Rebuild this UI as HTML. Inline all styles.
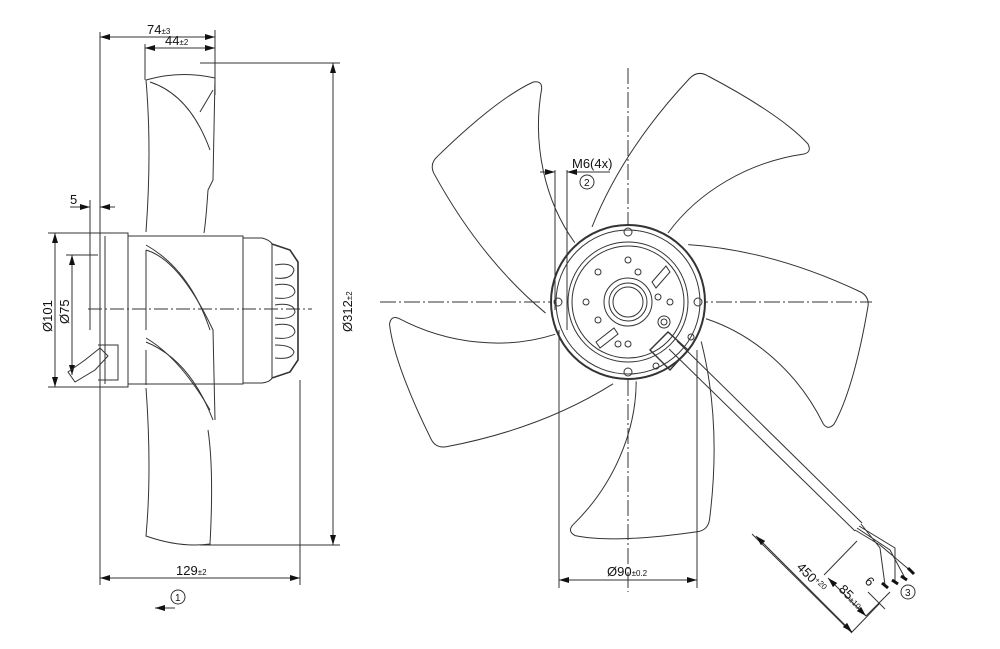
<!DOCTYPE html>
<html><head><meta charset="utf-8"><style>
html,body{margin:0;padding:0;background:#fff;}
svg{display:block;}
text{font-family:"Liberation Sans",sans-serif;fill:#111;}
</style></head><body>
<svg width="1000" height="649" viewBox="0 0 1000 649" xmlns="http://www.w3.org/2000/svg">
<defs>
<marker id="a" viewBox="0 0 10 6" refX="10" refY="3" markerWidth="10" markerHeight="6" orient="auto-start-reverse" markerUnits="userSpaceOnUse"><path d="M0,0 L10,3 L0,6 Z" fill="#111"/></marker>
</defs>
<g fill="none" stroke="#333" stroke-width="1">
<line x1="100" y1="32" x2="100" y2="585"/>
<line x1="215" y1="30" x2="215" y2="95"/>
<line x1="145" y1="44" x2="145" y2="80"/>
<line x1="200" y1="63" x2="340" y2="63"/>
<line x1="200" y1="545" x2="340" y2="545"/>
<line x1="300" y1="380" x2="300" y2="585"/>
<line x1="90" y1="200" x2="90" y2="330"/>
<line x1="100" y1="37" x2="215" y2="37" marker-start="url(#a)" marker-end="url(#a)"/>
<line x1="145" y1="48" x2="215" y2="48" marker-start="url(#a)" marker-end="url(#a)"/>
<line x1="333" y1="63" x2="333" y2="545" marker-start="url(#a)" marker-end="url(#a)"/>
<line x1="100" y1="578" x2="300" y2="578" marker-start="url(#a)" marker-end="url(#a)"/>
<line x1="55" y1="233" x2="55" y2="387" marker-start="url(#a)" marker-end="url(#a)"/>
<line x1="72" y1="255" x2="72" y2="375" marker-start="url(#a)" marker-end="url(#a)"/>
<line x1="48" y1="233" x2="100" y2="233"/>
<line x1="48" y1="387" x2="100" y2="387"/>
<line x1="66" y1="255" x2="98" y2="255"/>
<line x1="70" y1="207" x2="90" y2="207" marker-end="url(#a)"/>
<line x1="100" y1="207" x2="115" y2="207"/>
<line x1="100" y1="207" x2="108" y2="207" marker-start="url(#a)"/>
<line x1="88" y1="309" x2="312" y2="309" stroke-dasharray="14,3,2,3"/>
<path d="M146,80 Q180,70 215,78 L213,180 L208,190 Q206,220 204,233"/>
<path d="M146,80 Q152,150 146,232"/>
<path d="M150,82 Q190,95 210,150"/>
<path d="M200,112 L213,90"/>
<path d="M146,388 Q152,470 146,536 Q180,548 210,544 Q214,470 208,430"/>
<path d="M146,250 Q180,260 213,330 L215,420"/>
<path d="M146,245 Q190,270 210,330"/>
<path d="M146,342 Q190,360 213,420"/>
<path d="M146,338 Q180,358 210,410"/>
<path d="M146,250 L146,330 M146,350 L146,385"/>
<rect x="100" y="233" width="28" height="154"/>
<line x1="105" y1="236" x2="105" y2="384"/>
<rect x="128" y="236" width="115" height="148"/>
<path d="M243,238 L262,238 Q270,240 272,244 L272,378 Q270,382 262,383 L243,383"/>
<path d="M272,244 L290,250 L298,262 L298,360 L290,372 L272,378" stroke-width="1.6"/>
<path d="M275,265 Q292,262 294,270 Q292,280 275,278 M275,285 Q294,282 295,292 Q292,300 275,298 M275,305 Q294,302 295,312 Q292,320 275,318 M275,325 Q294,322 295,332 Q292,340 275,338 M275,345 Q292,345 294,352 Q292,360 275,358" />
<path d="M98,345 L118,345 L118,380 L98,380"/>
<path d="M68,372 L85,360 L100,348 L108,356 L95,370 L75,382 Z"/>
<line x1="155" y1="608" x2="175" y2="608" marker-start="url(#a)"/>
<circle cx="178" cy="597" r="7"/>

<line x1="628" y1="68" x2="628" y2="592" stroke-dasharray="16,3,2,3"/>
<line x1="380" y1="302" x2="872" y2="302" stroke-dasharray="16,3,2,3"/>
<g transform="translate(628,302)">
<g id="bl"><path d="M-36,-75 C-10,-140 30,-190 62,-224 Q70,-232 80,-226 C120,-205 160,-180 180,-158 Q184,-150 176,-148 C120,-140 70,-110 40,-69"/></g>
<use href="#bl" transform="rotate(72)"/>
<use href="#bl" transform="rotate(144)"/>
<use href="#bl" transform="rotate(216)"/>
<use href="#bl" transform="rotate(288)"/>
<circle r="77" fill="#fff" stroke-width="2"/>
<circle r="72"/>
<circle r="60"/>
<circle r="56"/>
<circle r="24"/>
<circle r="19"/>
<circle r="15"/>
<circle cx="0" cy="-70" r="4"/><circle cx="0" cy="70" r="4"/><circle cx="-70" cy="0" r="4"/><circle cx="70" cy="0" r="4"/>
<circle cx="0" cy="-42" r="3"/><circle cx="0" cy="42" r="3"/><circle cx="-42" cy="0" r="3"/><circle cx="42" cy="0" r="3"/>
<circle cx="-30" cy="-30" r="3"/><circle cx="10" cy="-30" r="3"/><circle cx="30" cy="-5" r="3"/><circle cx="-30" cy="18" r="3"/><circle cx="-10" cy="42" r="3"/>
<circle cx="36" cy="20" r="6"/><circle cx="36" cy="20" r="3"/>
<circle cx="63" cy="35" r="3"/><circle cx="28" cy="64" r="3"/>
<path d="M-32,40 L-14,26 L-10,32 L-28,46 Z M24,-20 L38,-36 L42,-30 L28,-14 Z"/>
</g>
<path d="M650,350 L668,332 L688,350 L670,370 Z" stroke-width="1.4"/>
<line x1="669" y1="349" x2="855" y2="531"/>
<line x1="677" y1="341" x2="862" y2="523"/>
<path d="M855,530 L880,545 L912,572 M857,528 L890,550 L905,578 M859,526 L895,548 L895,582 M861,524 L880,548 L885,585"/>
<path d="M908,568 L914,574 M901,576 L907,580 M892,580 L898,584 M882,583 L888,588" stroke-width="3" stroke="#111"/>
<line x1="555" y1="170" x2="555" y2="310"/>
<line x1="567" y1="170" x2="567" y2="330"/>
<line x1="540" y1="172" x2="555" y2="172" marker-end="url(#a)"/>
<line x1="582" y1="172" x2="567" y2="172" marker-end="url(#a)"/>
<line x1="582" y1="172" x2="610" y2="172"/>
<circle cx="587" cy="182" r="7"/>
<line x1="559" y1="330" x2="559" y2="588"/>
<line x1="697" y1="350" x2="697" y2="588"/>
<line x1="559" y1="580" x2="697" y2="580" marker-start="url(#a)" marker-end="url(#a)"/>
<line x1="752" y1="534" x2="852" y2="633"/>
<line x1="756" y1="536" x2="852" y2="632" marker-start="url(#a)" marker-end="url(#a)"/>
<line x1="824" y1="575" x2="857" y2="541"/>
<line x1="828" y1="578" x2="866" y2="616" marker-start="url(#a)" marker-end="url(#a)"/>
<line x1="852" y1="632" x2="880" y2="603"/>
<line x1="866" y1="616" x2="890" y2="592"/>
<line x1="868" y1="592" x2="885" y2="609"/>
<circle cx="908" cy="592" r="7"/>
</g>
<g font-size="13">
<text x="147" y="34">74<tspan font-size="8">±3</tspan></text>
<text x="165" y="45">44<tspan font-size="8">±2</tspan></text>
<text x="70" y="204">5</text>
<text x="176" y="575">129<tspan font-size="8">±2</tspan></text>
<text transform="translate(352,332) rotate(-90)">Ø312<tspan font-size="8">±2</tspan></text>
<text transform="translate(52,332) rotate(-90)">Ø101</text>
<text transform="translate(69,324) rotate(-90)">Ø75</text>
<text x="175" y="601" font-size="10">1</text>
<text x="572" y="168">M6(4x)</text>
<text x="584" y="186" font-size="10">2</text>
<text x="607" y="576">Ø90<tspan font-size="8">±0.2</tspan></text>
<text x="905" y="596" font-size="10">3</text>
<text transform="translate(796,568) rotate(45)">450<tspan font-size="8" dy="-4">+20</tspan></text>
<text transform="translate(838,590) rotate(45)">85<tspan font-size="8">±10</tspan></text>
<text transform="translate(864,582) rotate(45)">6</text>
</g>
</svg>
</body></html>
